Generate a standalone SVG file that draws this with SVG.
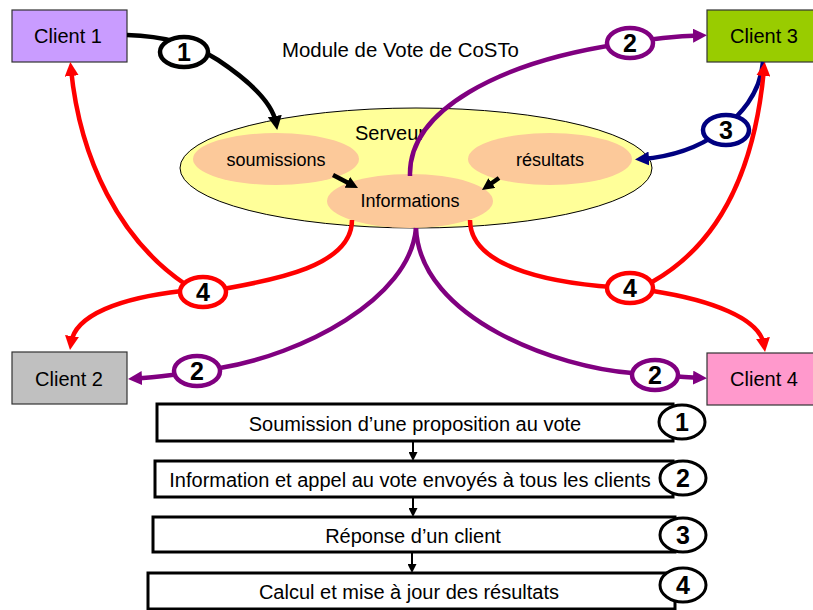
<svg xmlns="http://www.w3.org/2000/svg" width="813" height="610" viewBox="0 0 813 610">
<defs>
<style>
text{font-family:"Liberation Sans",Arial,sans-serif;fill:#000}
.client{stroke:#333;stroke-width:1.2}
.ct{font-size:20px;text-anchor:middle}
.it{font-size:18px;text-anchor:middle}
.num{font-size:25px;font-weight:bold;text-anchor:middle}
.lbl{fill:#fff;stroke-width:4.5}
.step{fill:#fff;stroke:#000;stroke-width:3}
.st{font-size:20px;text-anchor:middle}
.c{fill:none;stroke-width:4.5}
</style>
<marker id="aK" viewBox="0 0 10 10" refX="5" refY="5" markerWidth="14" markerHeight="14" markerUnits="userSpaceOnUse" orient="auto"><path d="M0,0 L10,5 L0,10 z" fill="#000"/></marker>
<marker id="aP" viewBox="0 0 10 10" refX="5" refY="5" markerWidth="14" markerHeight="14" markerUnits="userSpaceOnUse" orient="auto"><path d="M0,0 L10,5 L0,10 z" fill="#800080"/></marker>
<marker id="aN" viewBox="0 0 10 10" refX="5" refY="5" markerWidth="14" markerHeight="14" markerUnits="userSpaceOnUse" orient="auto"><path d="M0,0 L10,5 L0,10 z" fill="#000080"/></marker>
<marker id="aR" viewBox="0 0 10 10" refX="5" refY="5" markerWidth="14" markerHeight="14" markerUnits="userSpaceOnUse" orient="auto"><path d="M0,0 L10,5 L0,10 z" fill="#f00"/></marker>
<marker id="aS" viewBox="0 0 10 10" refX="5" refY="5" markerWidth="12" markerHeight="12" markerUnits="userSpaceOnUse" orient="auto"><path d="M0,0 L10,5 L0,10 z" fill="#000"/></marker>
<marker id="aT" viewBox="0 0 10 10" refX="5" refY="5" markerWidth="9" markerHeight="9" markerUnits="userSpaceOnUse" orient="auto"><path d="M0,0 L10,5 L0,10 z" fill="#000"/></marker>
</defs>
<rect width="813" height="610" fill="#fff"/>

<text x="282" y="57" style="font-size:20.4px">Module de Vote de CoSTo</text>

<g id="serveur">
<ellipse cx="416" cy="168" rx="236" ry="60" fill="#ffff99" stroke="#000" stroke-width="1"/>
<text x="355" y="140" style="font-size:20px">Serveur</text>
</g>
<g id="soumissions">
<ellipse cx="276" cy="159" rx="83" ry="26" fill="#fcc99a"/>
<text class="it" x="276" y="166">soumissions</text>
</g>
<g id="resultats">
<ellipse cx="550" cy="159" rx="82" ry="26" fill="#fcc99a"/>
<text class="it" x="550" y="166">résultats</text>
</g>
<g id="informations">
<ellipse cx="410" cy="201" rx="83" ry="27" fill="#fcc99a"/>
<text class="it" x="410" y="207">Informations</text>
</g>

<g id="client1"><rect class="client" x="12" y="10" width="115" height="52" fill="#c99cff"/><text class="ct" x="68" y="43">Client 1</text></g>
<g id="client3"><rect class="client" x="707" y="10" width="115" height="52" fill="#99cc00"/><text class="ct" x="764" y="43">Client 3</text></g>
<g id="client2"><rect class="client" x="12" y="352" width="115" height="52" fill="#c0c0c0"/><text class="ct" x="69" y="386">Client 2</text></g>
<g id="client4"><rect class="client" x="707" y="353" width="115" height="52" fill="#ff99cc"/><text class="ct" x="764" y="386">Client 4</text></g>

<g id="connectors">
<path class="c" stroke="#000" d="M127,35 C165,36 195,45 218,60 C245,78 272,100 276,123" marker-end="url(#aK)"/>
<path class="c" stroke="#800080" d="M410,176 C408,110 500,62 620,44 C650,39 680,36 700,35.5" marker-end="url(#aP)"/>
<path class="c" stroke="#000080" d="M763,62 C760,95 740,115 720,132 C695,150 668,157 642,159" marker-end="url(#aN)"/>
<path class="c" stroke="#f00" d="M352,220 C352,265 280,280 205,292"/>
<path class="c" stroke="#f00" d="M185,284 C120,240 80,160 71,69" marker-end="url(#aR)"/>
<path class="c" stroke="#f00" d="M182,291 C120,298 75,315 71,343" marker-end="url(#aR)"/>
<path class="c" stroke="#f00" d="M470,220 C470,270 560,285 630,288"/>
<path class="c" stroke="#f00" d="M652,282 C700,255 752,200 764,69" marker-end="url(#aR)"/>
<path class="c" stroke="#f00" d="M653,291 C710,300 760,318 764,345" marker-end="url(#aR)"/>
<path class="c" stroke="#800080" d="M416,228 C410,300 300,355 220,368 C195,372 160,377 135,378.5" marker-end="url(#aP)"/>
<path class="c" stroke="#800080" d="M416,228 C420,320 560,368 632,373 C660,375 680,377 700,378" marker-end="url(#aP)"/>
<path class="c" stroke="#000" d="M333,175 L352.7,185.2" marker-end="url(#aS)"/>
<path class="c" stroke="#000" d="M499,178 L486.9,186.5" marker-end="url(#aS)"/>
<path fill="none" stroke="#000" stroke-width="2" d="M413,441 L413,456.5" marker-end="url(#aT)"/>
<path fill="none" stroke="#000" stroke-width="2" d="M413,497 L413,512.5" marker-end="url(#aT)"/>
<path fill="none" stroke="#000" stroke-width="2" d="M412,552 L412,568.5" marker-end="url(#aT)"/>

<ellipse class="lbl" stroke="#000" cx="184" cy="52" rx="24" ry="15"/><text class="num" x="184" y="61">1</text>
<ellipse class="lbl" stroke="#800080" cx="630" cy="43" rx="23" ry="15"/><text class="num" x="630" y="52">2</text>
<ellipse class="lbl" stroke="#000080" cx="726" cy="130" rx="23" ry="15"/><text class="num" x="726" y="139">3</text>
<ellipse class="lbl" stroke="#f00" cx="203" cy="292" rx="23" ry="15"/><text class="num" x="203" y="301">4</text>
<ellipse class="lbl" stroke="#f00" cx="630" cy="288" rx="23" ry="15"/><text class="num" x="630" y="297">4</text>
<ellipse class="lbl" stroke="#800080" cx="197" cy="371" rx="23" ry="15"/><text class="num" x="197" y="380">2</text>
<ellipse class="lbl" stroke="#800080" cx="655" cy="375" rx="23" ry="15"/><text class="num" x="655" y="384">2</text>
</g>

<g id="step1"><rect class="step" x="157" y="404" width="516" height="37"/><text class="st" x="415" y="431">Soumission d’une proposition au vote</text><ellipse class="step" cx="682" cy="422" rx="23" ry="17"/><text class="num" x="682" y="431">1</text></g>
<g id="step2"><rect class="step" x="155" y="461" width="518" height="36"/><text class="st" x="410" y="487">Information et appel au vote envoyés à tous les clients</text><ellipse class="step" cx="683" cy="478" rx="23" ry="17"/><text class="num" x="683" y="487">2</text></g>
<g id="step3"><rect class="step" x="153" y="517" width="522" height="35"/><text class="st" x="413" y="543">Réponse d’un client</text><ellipse class="step" cx="683" cy="535" rx="23" ry="17"/><text class="num" x="683" y="544">3</text></g>
<g id="step4"><rect class="step" x="148" y="573" width="527" height="36"/><text class="st" x="409" y="599">Calcul et mise à jour des résultats</text><ellipse class="step" cx="683" cy="585" rx="23" ry="17"/><text class="num" x="683" y="594">4</text></g>
</svg>
